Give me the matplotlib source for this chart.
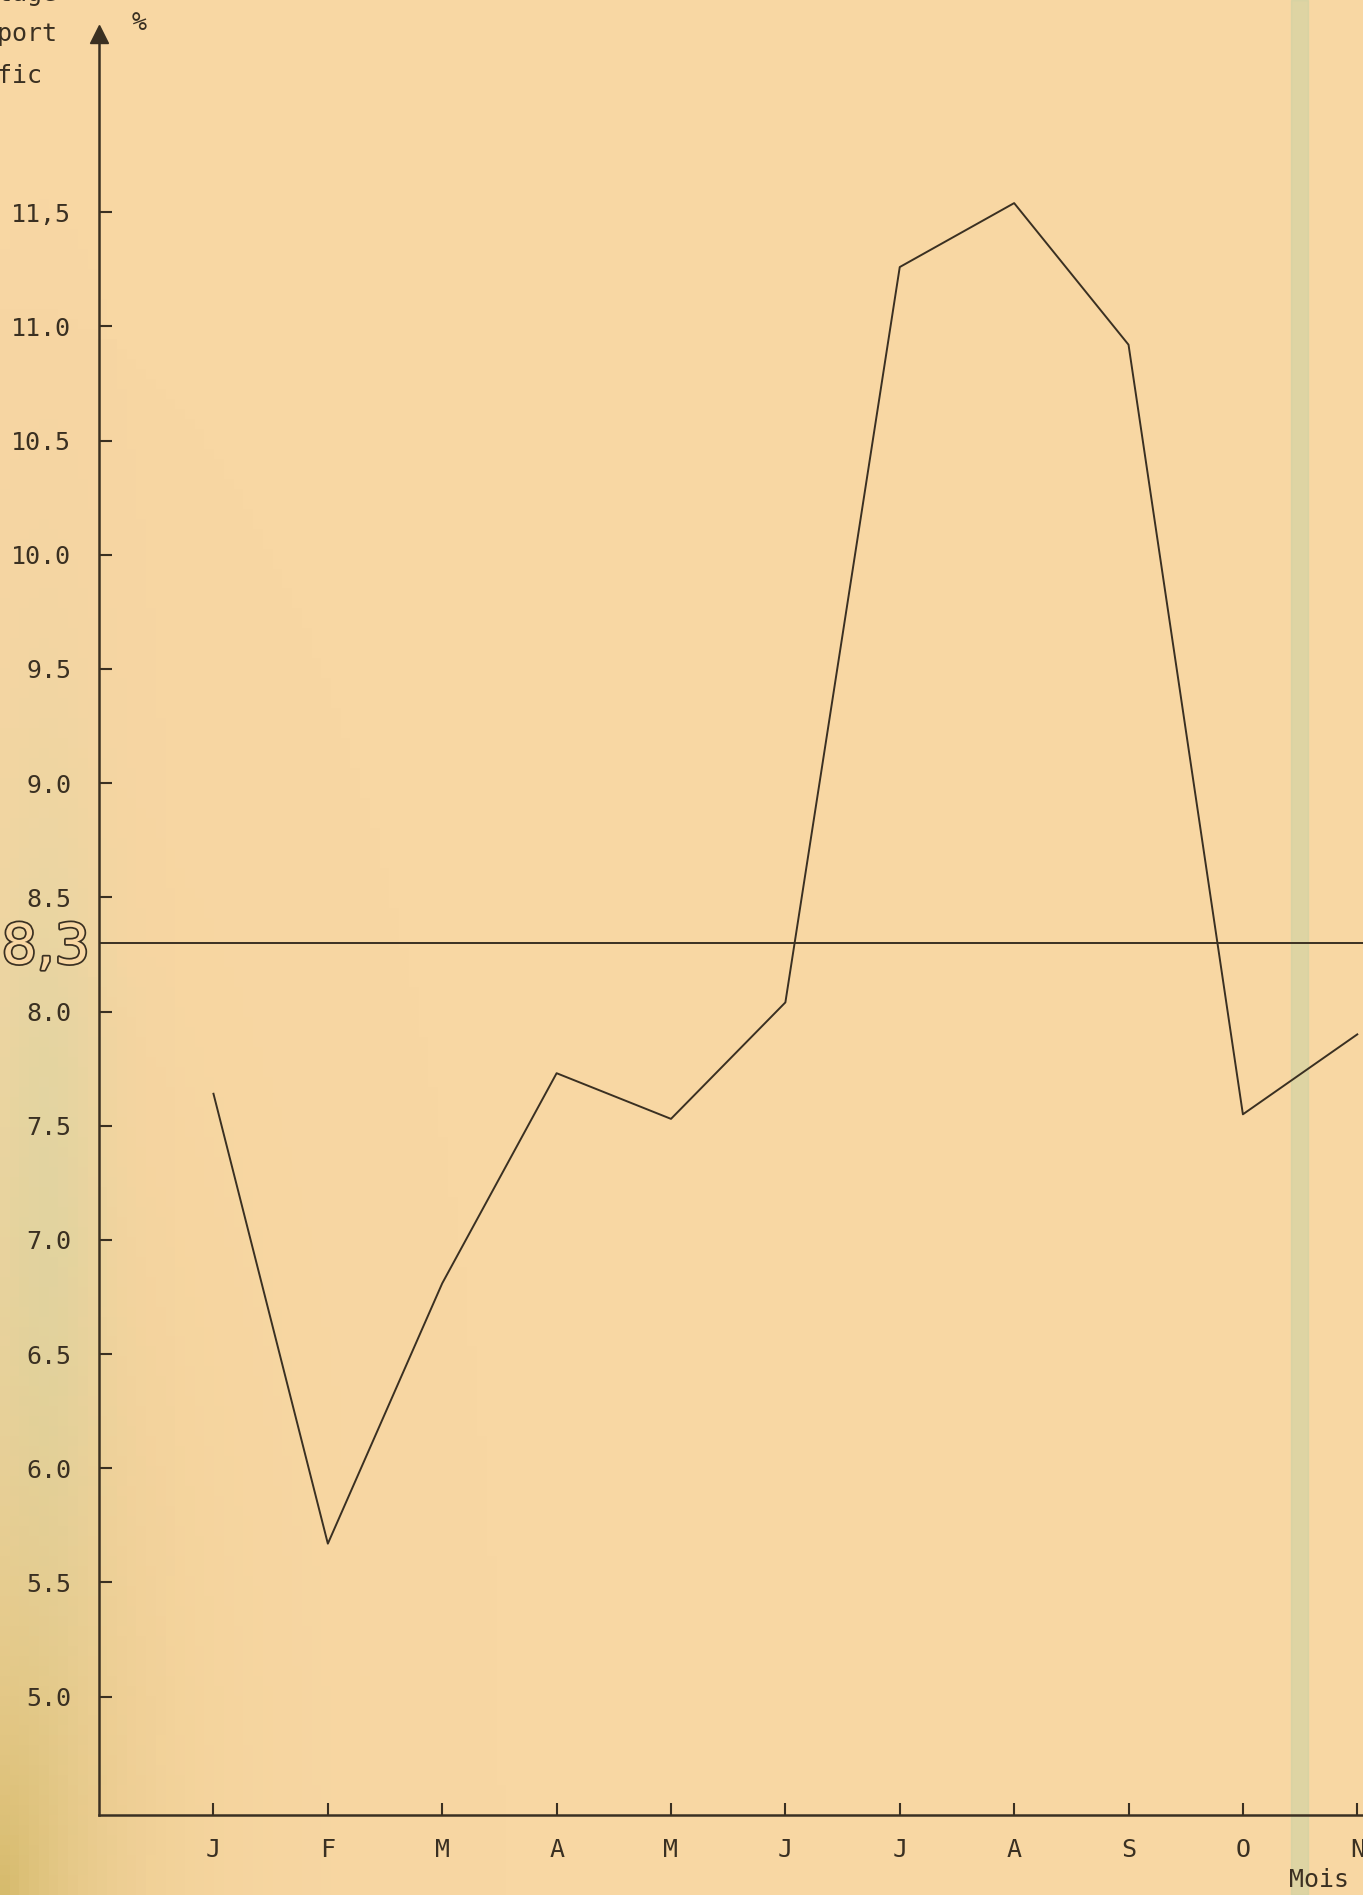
import numpy as np
import matplotlib.pyplot as plt
import matplotlib.patheffects as pe
from matplotlib import font_manager
from matplotlib.patches import Rectangle

# monthly values (%)
months = ['J', 'F', 'M', 'A', 'M', 'J', 'J', 'A', 'S', 'O', 'N']
values = [7.64, 5.67, 6.81, 7.73, 7.53, 8.04, 11.26, 11.54, 10.92, 7.55, 7.90]
mean_value = 8.3
y_ticks = [5.0, 5.5, 6.0, 6.5, 7.0, 7.5, 8.0, 8.5, 9.0, 9.5, 10.0, 10.5, 11.0, 11.5]
y_labels = ['5.0', '5.5', '6.0', '6.5', '7.0', '7.5', '8.0', '8.5', '9.0', '9.5',
            '10.0', '10.5', '11.0', '11,5']

bg = '#f8d7a3'
ink = '#3a3022'
plt.rcParams['font.family'] = ['DejaVu Sans Mono']

# narrow face for the big hand lettered "8,3" if there is one
try:
    font_manager.findfont('Liberation Sans Narrow', fallback_to_default=False)
    big_family = 'Liberation Sans Narrow'
    big_size = 60
except ValueError:
    big_family = 'DejaVu Sans'
    big_size = 40
print(big_family)

fig = plt.figure(figsize=(13.63, 18.95), dpi=100)
fig.patch.set_facecolor(bg)

# paper tint: olive shading in the lower left corner of the scan
bgax = fig.add_axes([0, 0, 1, 1], zorder=-5)
gx, gy = np.meshgrid(np.linspace(0, 1, 140), np.linspace(0, 1, 190))
shade = np.zeros((190, 140, 4))
shade[..., 0] = 0.80
shade[..., 1] = 0.70
shade[..., 2] = 0.36
shade[..., 3] = 0.75 * np.exp(-np.hypot(gx / 0.07, gy / 0.16))
green = np.exp(-((gx - 0.03) / 0.045) ** 2) * np.exp(-((gy - 0.35) / 0.25) ** 2)
tint = np.zeros((190, 140, 4))
tint[..., 0], tint[..., 1], tint[..., 2] = 0.80, 0.84, 0.66
tint[..., 3] = 0.45 * green
bgax.imshow(tint, extent=[0, 1, 0, 1], origin='lower', aspect='auto')
bgax.imshow(shade, extent=[0, 1, 0, 1], origin='lower', aspect='auto')
bgax.set_xlim(0, 1)
bgax.set_ylim(0, 1)
bgax.axis('off')

# scan artefact band on the right
fig.patches.append(Rectangle((0.947, 0), 0.013, 1, transform=fig.transFigure,
                             color='#c9d2a4', alpha=0.55, zorder=0))

ax = fig.add_axes([0.0727, 0.042, 0.9273, 0.94], zorder=2)
ax.set_facecolor('none')

x = list(range(1, len(months) + 1))
ax.plot(x, values, color=ink, linewidth=1.4, clip_on=False)
ax.axhline(mean_value, color=ink, linewidth=1.4)

ax.set_xlim(0, 11.05)
ax.set_ylim(4.48, 12.28)

for s in ['top', 'right']:
    ax.spines[s].set_visible(False)
for s in ['left', 'bottom']:
    ax.spines[s].set_color(ink)
    ax.spines[s].set_linewidth(1.8)

ax.plot(0, 1, marker='^', color=ink, markersize=13, transform=ax.transAxes,
        clip_on=False)

ax.set_xticks(x)
ax.set_xticklabels(months)
ax.set_yticks(y_ticks)
ax.set_yticklabels(y_labels)
ax.tick_params(axis='x', direction='in', length=9, width=1.5, color=ink,
               pad=16, labelsize=18, labelcolor=ink)
ax.tick_params(axis='y', direction='in', length=9, width=1.5, color=ink,
               pad=20, labelsize=18, labelcolor=ink)

# big hand-written mean label, drawn as outlined glyphs
fig.text(0.0335, 0.4995, '8,3', fontsize=big_size, ha='center', va='center',
         family=big_family, color=bg,
         path_effects=[pe.withStroke(linewidth=2.5, foreground=ink)])

fig.text(0.102, 0.988, '%', fontsize=18, color=ink, ha='center', va='center')
fig.text(0.042, 1.003, 'Pourcentage', fontsize=18, color=ink, ha='right', va='center')
fig.text(0.042, 0.982, 'du rapport', fontsize=18, color=ink, ha='right', va='center')
fig.text(0.031, 0.960, 'trafic', fontsize=18, color=ink, ha='right', va='center')
fig.text(0.968, 0.008, 'Mois', fontsize=18, color=ink, ha='center', va='center')

fig.savefig('out.png', dpi=100, facecolor=bg)
